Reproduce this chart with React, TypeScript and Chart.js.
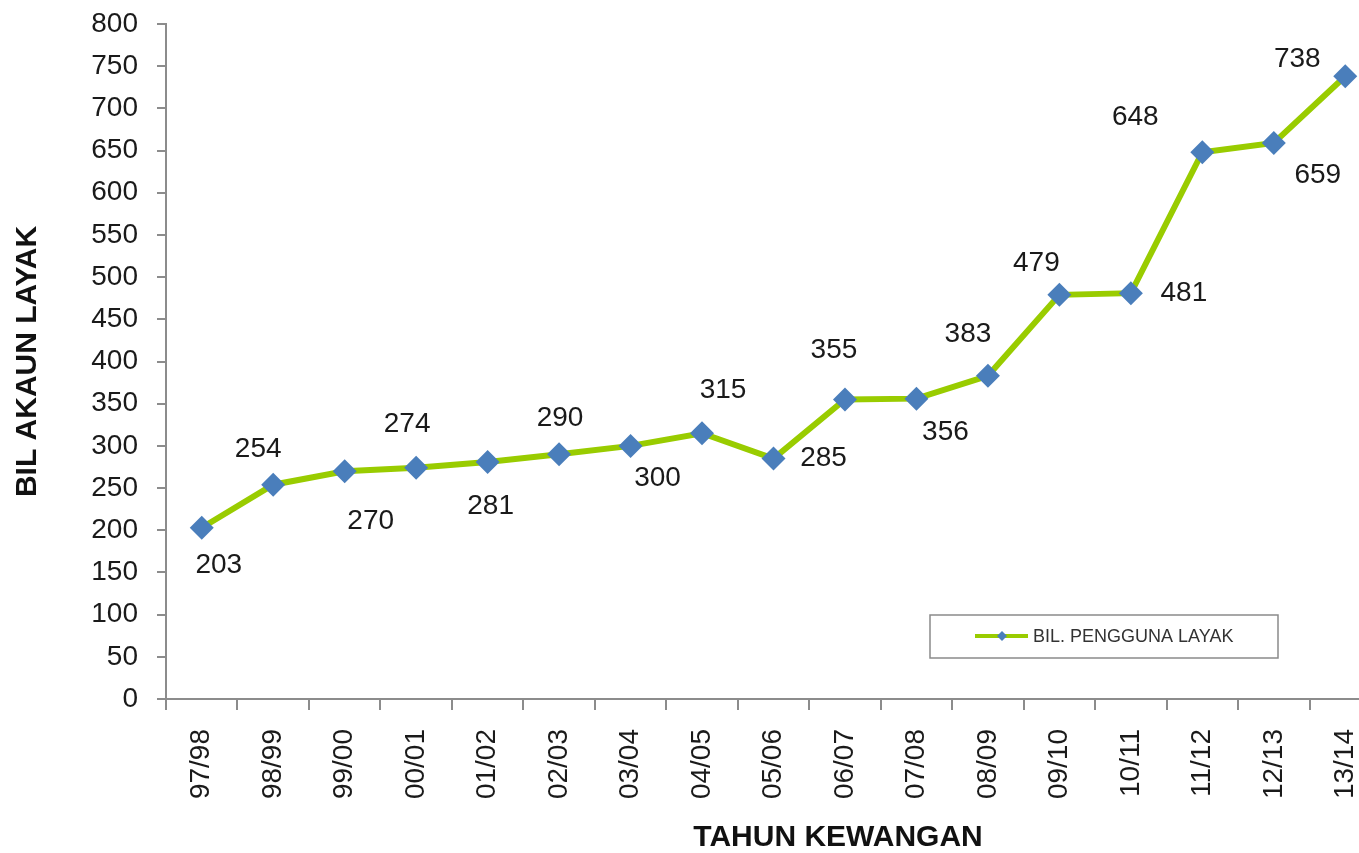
import { useEffect, useRef } from "react";
import { Chart, registerables } from "chart.js";

Chart.register(...registerables);

const categories = ["97/98", "98/99", "99/00", "00/01", "01/02", "02/03", "03/04", "04/05", "05/06", "06/07", "07/08", "08/09", "09/10", "10/11", "11/12", "12/13", "13/14"];
const values = [203, 254, 270, 274, 281, 290, 300, 315, 285, 355, 356, 383, 479, 481, 648, 659, 738];
const yMin = 0;
const yMax = 800;
const yStep = 50;
const seriesName = "BIL. PENGGUNA LAYAK";
const yTitle = "BIL AKAUN LAYAK";
const xTitle = "TAHUN KEWANGAN";

// label placement offsets (style only): [dx, dy] from each point
const labelOffsets: [number, number][] = [
  [17, 38], [-15, -35], [26, 50], [-9, -44], [3, 44], [1, -36], [27, 32], [21, -43], [50, 0],
  [-11, -49], [29, 34], [-20, -42], [-23, -32], [53, 0], [-67, -35], [44, 32], [-48, -17],
];

const FONT = "'Liberation Sans', Arial, Helvetica, sans-serif";
const LINE_COLOR = "#99CC00";
const MARKER_COLOR = "#4A7EBB";
const AXIS_COLOR = "#8C8C8C";

const extrasPlugin = {
  id: "extras",
  afterDatasetsDraw(chart: any) {
    const ctx = chart.ctx;
    const meta = chart.getDatasetMeta(0);
    ctx.save();
    ctx.font = `28px ${FONT}`;
    ctx.fillStyle = "#1a1a1a";
    ctx.textAlign = "center";
    ctx.textBaseline = "middle";
    meta.data.forEach((pt: any, i: number) => {
      const [dx, dy] = labelOffsets[i] || [0, -30];
      ctx.fillText(String(values[i]), pt.x + dx, pt.y + dy);
    });
    ctx.restore();
  },
  afterDraw(chart: any) {
    const ctx = chart.ctx;
    const area = chart.chartArea;
    ctx.save();
    // x axis title
    ctx.font = `bold 30px ${FONT}`;
    ctx.fillStyle = "#111";
    ctx.textAlign = "center";
    ctx.textBaseline = "middle";
    ctx.fillText(xTitle, area.left + 672, area.bottom + 139);

    // legend box
    const bx = area.left + 764;
    const by = area.bottom - 84;
    const bw = 348;
    const bh = 43;
    ctx.fillStyle = "#fff";
    ctx.fillRect(bx, by, bw, bh);
    ctx.strokeStyle = "#8a8a8a";
    ctx.lineWidth = 1.5;
    ctx.strokeRect(bx, by, bw, bh);
    const ly = by + 21;
    ctx.strokeStyle = LINE_COLOR;
    ctx.lineWidth = 4;
    ctx.beginPath();
    ctx.moveTo(bx + 45, ly);
    ctx.lineTo(bx + 98, ly);
    ctx.stroke();
    ctx.fillStyle = MARKER_COLOR;
    ctx.beginPath();
    const cx = bx + 72;
    ctx.moveTo(cx, ly - 5);
    ctx.lineTo(cx + 5, ly);
    ctx.lineTo(cx, ly + 5);
    ctx.lineTo(cx - 5, ly);
    ctx.closePath();
    ctx.fill();
    ctx.font = `18px ${FONT}`;
    ctx.fillStyle = "#333";
    ctx.textAlign = "left";
    ctx.textBaseline = "middle";
    ctx.fillText(seriesName, bx + 103, ly + 1);
    ctx.restore();
  },
};

export default function App() {
  const ref = useRef<HTMLCanvasElement | null>(null);

  useEffect(() => {
    if (!ref.current) return;
    const chart = new Chart(ref.current, {
      type: "line",
      data: {
        labels: categories,
        datasets: [
          {
            label: seriesName,
            data: values,
            borderColor: LINE_COLOR,
            backgroundColor: MARKER_COLOR,
            borderWidth: 6,
            pointStyle: "rectRot",
            pointRadius: 12,
            pointHoverRadius: 12,
            pointBackgroundColor: MARKER_COLOR,
            pointBorderColor: MARKER_COLOR,
            pointBorderWidth: 0,
            tension: 0,
            fill: false,
          },
        ],
      },
      options: {
        responsive: false,
        devicePixelRatio: 1,
        animation: false,
        layout: { padding: { left: 0, top: 24, right: 19, bottom: 0 } },
        plugins: {
          legend: { display: false },
          tooltip: { enabled: false },
        },
        scales: {
          x: {
            type: "category",
            offset: true,
            grid: {
              offset: true,
              drawOnChartArea: false,
              drawTicks: true,
              tickLength: 11,
              color: AXIS_COLOR,
              lineWidth: 2,
            },
            border: { display: true, color: AXIS_COLOR, width: 2 },
            ticks: {
              minRotation: 90,
              maxRotation: 90,
              autoSkip: false,
              padding: 19,
              color: "#1a1a1a",
              font: { family: FONT, size: 28 },
            },
            afterFit(scale: any) {
              scale.height = 154;
              scale.paddingLeft = 0;
              scale.paddingRight = 0;
            },
          },
          y: {
            min: yMin,
            max: yMax,
            grid: {
              drawOnChartArea: false,
              drawTicks: true,
              tickLength: 9,
              color: AXIS_COLOR,
              lineWidth: 2,
            },
            border: { display: true, color: AXIS_COLOR, width: 2 },
            ticks: {
              stepSize: yStep,
              padding: 19,
              color: "#1a1a1a",
              font: { family: FONT, size: 28 },
            },
            title: {
              display: true,
              text: yTitle,
              color: "#111",
              font: { family: FONT, size: 30, weight: "bold" },
              padding: { top: 10, bottom: 0 },
            },
            afterFit(scale: any) {
              scale.width = 166;
              scale.paddingTop = 0;
              scale.paddingBottom = 0;
            },
          },
        },
      },
      plugins: [extrasPlugin],
    });
    return () => chart.destroy();
  }, []);

  return (
    <div style={{ position: "fixed", left: 0, top: 0, width: 1359, height: 853, overflow: "hidden", background: "#fff" }}>
      <canvas ref={ref} width={1400} height={853} style={{ display: "block", width: 1400, height: 853 }} />
    </div>
  );
}
